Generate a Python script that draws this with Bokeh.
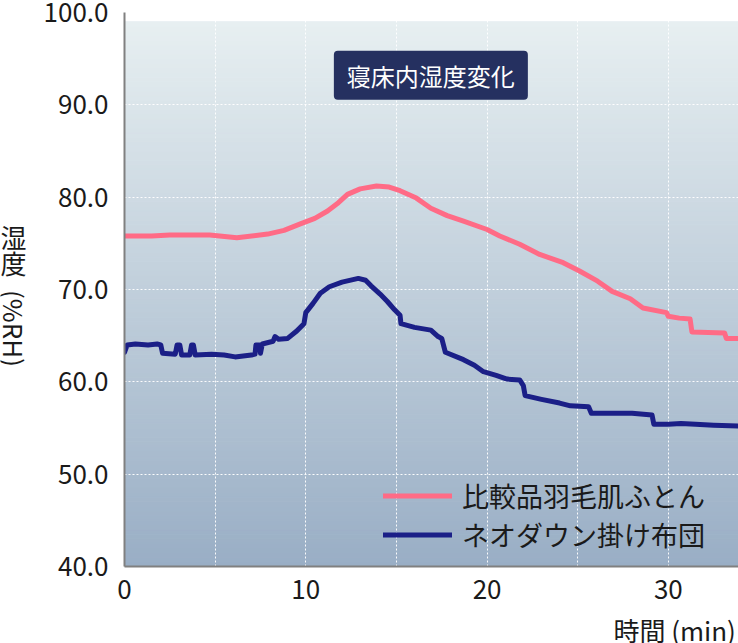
import numpy as np
from bokeh.plotting import figure
from bokeh.layouts import row, column
from bokeh.models import Label, Legend, LegendItem, Range1d, FixedTicker, NumeralTickFormatter
from bokeh.core.properties import value
from bokeh.embed import file_html
from bokeh.resources import INLINE

# ---------------- data ----------------
chart_title = "寝床内湿度変化"
series_names = ["比較品羽毛肌ふとん", "ネオダウン掛け布団"]
x_axis_label = "時間 (min)"
y_label_upright = ["湿", "度"]
y_label_rotated = "(%RH)"
x_ticks = [0, 10, 20, 30]
x_grid = [0, 5, 10, 15, 20, 25, 30]
y_ticks = [40, 50, 60, 70, 80, 90, 100]

t_ref = [0.0, 1.5, 2.5, 4.7, 6.2, 7.9, 8.8, 9.7, 10.5, 11.2, 11.8, 12.3, 13.0,
         13.9, 14.6, 15.2, 16.1, 16.9, 17.8, 18.7, 20.0, 20.7, 21.8, 22.9, 24.2,
         25.1, 26.1, 26.9, 27.9, 28.6, 29.9, 30.0, 30.6, 31.2, 31.3, 33.1, 33.2, 34.0]
rh_ref = [75.8, 75.8, 75.9, 75.9, 75.6, 76.0, 76.4, 77.1, 77.7, 78.5, 79.4, 80.3, 80.9,
          81.2, 81.1, 80.7, 79.9, 78.8, 78.0, 77.4, 76.5, 75.8, 74.9, 73.8, 72.9,
          72.0, 70.9, 69.8, 69.0, 68.0, 67.5, 67.1, 66.9, 66.8, 65.4, 65.3, 64.7, 64.7]

t_neo = [0.0, 0.15, 0.6, 1.3, 1.8, 2.0, 2.1, 2.8, 2.9, 3.05, 3.15, 3.6, 3.7, 3.8, 3.9,
         4.8, 5.5, 6.1, 7.0, 7.2, 7.25, 7.45, 7.5, 7.6, 8.2, 8.3, 8.5, 9.0, 9.5, 9.9,
         10.0, 10.4, 10.8, 11.3, 12.0, 12.9, 13.3, 13.6, 14.1, 14.5, 14.9, 15.2, 15.25,
         16.0, 16.9, 17.3, 17.5, 17.7, 18.7, 19.3, 19.8, 20.5, 21.1, 21.8, 22.0, 22.1,
         23.0, 24.0, 24.6, 25.6, 25.75, 27.0, 28.0, 29.1, 29.2, 30.0, 30.7, 31.5, 32.5, 34.0]
rh_neo = [63.2, 64.0, 64.1, 64.0, 64.1, 64.0, 63.1, 63.0, 64.0, 64.0, 62.9, 62.9, 64.0, 64.0, 62.9,
          63.0, 62.9, 62.7, 62.9, 63.0, 64.0, 64.0, 63.1, 64.1, 64.4, 64.9, 64.6, 64.7, 65.5, 66.3,
          67.5, 68.5, 69.6, 70.3, 70.8, 71.2, 71.0, 70.4, 69.5, 68.7, 67.8, 67.2, 66.3,
          65.9, 65.6, 64.9, 64.7, 63.2, 62.4, 61.8, 61.1, 60.7, 60.3, 60.2, 59.6, 58.5,
          58.1, 57.7, 57.4, 57.3, 56.6, 56.6, 56.6, 56.4, 55.4, 55.4, 55.5, 55.4, 55.3, 55.2]

# ---------------- style ----------------
FONT = "Noto Sans CJK JP"
TXT = "#1a1a1a"
PINK = "#ff6b86"
NAVY = "#1b1f87"
BOX = "#253060"
X_MAX = 33.87
Y_MIN, Y_MAX = 40, 100
GRAD_TOP = 99.0
TOP_RGB = np.array([231, 239, 241])
BOT_RGB = np.array([153, 174, 197])

W, H = 738, 643
LEFT_W = 30          # width of the side strip holding the vertical y label
BOTTOM_H = 30        # height of the strip holding the x label
MAIN_W, MAIN_H = W - LEFT_W, H - BOTTOM_H


def blank(width, height):
    f = figure(width=width, height=height, output_backend="svg", toolbar_location=None,
               x_range=Range1d(0, width), y_range=Range1d(0, height),
               x_axis_type=None, y_axis_type=None, min_border=0)
    f.outline_line_color = None
    f.background_fill_color = "white"
    f.border_fill_color = "white"
    f.grid.visible = False
    return f


p = figure(width=MAIN_W, height=MAIN_H, output_backend="svg", toolbar_location=None,
           x_range=Range1d(0, X_MAX), y_range=Range1d(Y_MIN, Y_MAX),
           min_border_left=124 - LEFT_W, min_border_right=0, min_border_top=12,
           min_border_bottom=MAIN_H - 566)
p.background_fill_color = "white"
p.border_fill_color = "white"
p.outline_line_color = None

# gradient background strips
n = 118
edges = np.linspace(Y_MIN, GRAD_TOP, n + 1)
mids = (edges[:-1] + edges[1:]) / 2
cols = []
for m in mids:
    f = (m - Y_MIN) / (GRAD_TOP - Y_MIN)
    c = BOT_RGB + (TOP_RGB - BOT_RGB) * f
    cols.append("#%02x%02x%02x" % tuple(int(round(v)) for v in c))
p.quad(left=0, right=X_MAX, bottom=edges[:-1], top=edges[1:], fill_color=cols,
       line_color=cols, line_width=1, level="image")

# grids
p.xgrid.ticker = FixedTicker(ticks=x_grid)
p.ygrid.ticker = FixedTicker(ticks=y_ticks)
for g in (p.xgrid, p.ygrid):
    g.grid_line_color = "white"
    g.grid_line_dash = "2 2"
    g.grid_line_width = 1
    g.grid_line_alpha = 0.95

# axes
p.xaxis.ticker = FixedTicker(ticks=x_ticks)
p.yaxis.ticker = FixedTicker(ticks=y_ticks)
p.yaxis.formatter = NumeralTickFormatter(format="0.0")
for ax in (p.xaxis, p.yaxis):
    ax.major_tick_line_color = None
    ax.minor_tick_line_color = None
    ax.major_tick_out = 0
    ax.major_tick_in = 0
    ax.axis_line_color = "#808080"
    ax.axis_line_width = 2
    ax.major_label_text_font = FONT
    ax.major_label_text_font_size = "26px"
    ax.major_label_text_color = TXT
p.yaxis.major_label_standoff = 16
p.xaxis.major_label_standoff = 13

# series
r1 = p.line(t_ref, rh_ref, color=PINK, line_width=5, line_join="round", line_cap="round")
r2 = p.line(t_neo, rh_neo, color=NAVY, line_width=5, line_join="round", line_cap="round")

legend = Legend(items=[LegendItem(label=series_names[0], renderers=[r1]),
                       LegendItem(label=series_names[1], renderers=[r2])],
                location=(259, 12), background_fill_alpha=0, border_line_color=None,
                label_text_font=FONT, label_text_font_size="27px", label_text_color=TXT,
                glyph_width=69, glyph_height=37, label_height=37, spacing=0,
                padding=0, margin=0, label_standoff=10)
p.add_layout(legend)

# title box
p.add_layout(Label(x=16.9, y=93.2, text=chart_title, text_align="center", text_baseline="middle",
                   text_color="white", text_font=FONT, text_font_size="24px",
                   background_fill_color=BOX,
                   padding=dict(left=13, right=13, top=7, bottom=7), border_radius=4))

# left strip: vertical y-axis label
yl = blank(LEFT_W, H)
yl.text(x=[13, 13], y=[H - 236, H - 262], text=y_label_upright,
        text_align="center", text_baseline="middle", text_font=value(FONT),
        text_font_size=value("26px"), text_color=TXT)
yl.text(x=[14], y=[H - 328], text=[y_label_rotated], angle=-np.pi / 2,
        text_align="center", text_baseline="middle", text_font=value(FONT),
        text_font_size=value("26px"), text_color=TXT)

# bottom strip: x-axis label, right aligned
xl = blank(MAIN_W, BOTTOM_H)
xl.text(x=[MAIN_W - 3], y=[BOTTOM_H - 16], text=[x_axis_label],
        text_align="right", text_baseline="middle", text_font=value(FONT),
        text_font_size=value("26px"), text_color=TXT)

layout = row(yl, column(p, xl, spacing=0), spacing=0)
open("out.html", "w").write(file_html(layout, INLINE))
